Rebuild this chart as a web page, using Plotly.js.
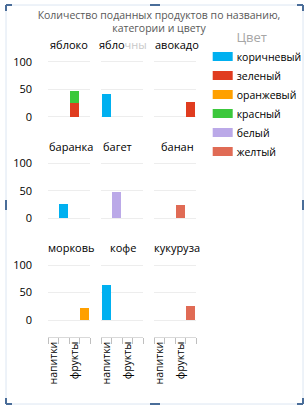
<!DOCTYPE html>
<html>
<head>
<meta charset="utf-8">
<script src="https://cdn.plot.ly/plotly-3.0.1.min.js"></script>
<style>
  html, body { margin: 0; padding: 0; background: #ffffff; }
  #chart { width: 308px; height: 412px; }
</style>
</head>
<body>
<div id="chart"></div>
<script>
// ---------- data ----------
const chartTitle = 'Количество поданных продуктов по названию,<br>категории и цвету';
const legendTitle = 'Цвет';
const items = ['яблоко', 'яблочный', 'авокадо', 'баранка', 'багет', 'банан', 'морковь', 'кофе', 'кукуруза'];
const itemLabels = ['яблоко', 'ябло<span style="color:#c8c8c8">чны</span>', 'авокадо', 'баранка', 'багет', 'банан', 'морковь', 'кофе', 'кукуруза'];
const categories = ['напитки', 'хлеб', 'фрукты', 'овощи'];
const categoryTickText = ['напитки', '', 'фрукты', ''];
const itemCategory = ['фрукты', 'напитки', 'овощи', 'хлеб', 'хлеб', 'фрукты', 'овощи', 'напитки', 'овощи'];
const colorNames = ['коричневый', 'зеленый', 'оранжевый', 'красный', 'белый', 'желтый'];
const brownValues  = [null, 42, null, 26, null, null, null, 63, null];
const greenValues  = [25, null, 27, null, null, null, null, null, null];
const orangeValues = [null, null, null, null, null, null, 22, null, null];
const redValues    = [22, null, null, null, null, null, null, null, null];
const whiteValues  = [null, null, null, null, 47, null, null, null, null];
const yellowValues = [null, null, null, null, null, 24, null, null, 26];
const yTicks = [0, 50, 100];

// ---------- styles ----------
const seriesValues = [brownValues, greenValues, orangeValues, redValues, whiteValues, yellowValues];
const seriesColors = ['#00B0F0', '#E03C1F', '#FFA000', '#3CC83C', '#BBA9E8', '#E06B55'];
const W = 308, H = 412;
const px = v => v / W;
const py = v => 1 - v / H;
const FONT = 'Open Sans, Noto Sans, sans-serif';

const colX = [[48, 90], [101, 143], [154, 196]];
const rowY = [[53.75, 133.2], [155.05, 234.8], [256.75, 336.5]];
const titleLeft = [48, 97, 153, 47, 101, 159, 46, 108, 152];
const titleY = [45, 147, 248];

function axName(i) { return i === 0 ? '' : String(i + 1); }

const traces = [];
seriesValues.forEach((vals, c) => {
  let first = true;
  vals.forEach((v, i) => {
    if (v === null) return;
    traces.push({
      type: 'bar',
      x: [itemCategory[i]],
      y: [v],
      name: colorNames[c],
      legendgroup: colorNames[c],
      showlegend: first,
      xaxis: 'x' + axName(i),
      yaxis: 'y' + axName(i),
      marker: { color: seriesColors[c], line: { width: 0 } },
      hoverinfo: 'skip'
    });
    first = false;
  });
});

const layout = {
  width: W, height: H,
  margin: { l: 0, r: 0, t: 0, b: 0, pad: 0 },
  paper_bgcolor: '#ffffff',
  plot_bgcolor: 'rgba(0,0,0,0)',
  font: { family: FONT, size: 11, color: '#000000' },
  barmode: 'stack',
  bargap: 0.18,
  title: {
    text: chartTitle,
    font: { family: FONT, size: 10.5, color: '#595959' },
    x: px(159), xanchor: 'center', xref: 'paper',
    y: py(18.5), yanchor: 'top', yref: 'paper'
  },
  showlegend: true,
  legend: {
    x: px(196.7), xanchor: 'left', y: py(25), yanchor: 'top',
    bgcolor: 'rgba(0,0,0,0)',
    font: { family: FONT, size: 10.5, color: '#000000' },
    title: { text: legendTitle, side: 'top center', font: { family: FONT, size: 13, color: '#A6A6A6' } },
    tracegroupgap: 0,
    itemclick: false, itemdoubleclick: false
  },
  annotations: [],
  shapes: []
};

for (let i = 0; i < 9; i++) {
  const r = Math.floor(i / 3), c = i % 3;
  const n = axName(i);
  const bottom = r === 2;
  layout['xaxis' + n] = {
    domain: [px(colX[c][0]), px(colX[c][1])],
    anchor: 'y' + n,
    type: 'category',
    categoryorder: 'array',
    categoryarray: categories,
    range: [-0.5, categories.length - 0.5],
    fixedrange: true,
    showgrid: false,
    zeroline: false,
    showline: bottom,
    linecolor: '#D9D9D9',
    linewidth: 1,
    ticks: bottom ? 'outside' : '',
    tickson: 'boundaries',
    ticklen: 6,
    tickcolor: '#BFBFBF',
    tickwidth: 1,
    tickmode: 'array',
    tickvals: categories,
    ticktext: categoryTickText,
    showticklabels: bottom,
    tickangle: -90,
    tickfont: { family: FONT, size: 10.5, color: '#000000' },
    automargin: false
  };
  layout['yaxis' + n] = {
    domain: [py(rowY[r][1]), py(rowY[r][0])],
    anchor: 'x' + n,
    range: [-30, 115],
    fixedrange: true,
    tickmode: 'array',
    tickvals: yTicks,
    showgrid: true,
    gridcolor: '#EDEDED',
    gridwidth: 1,
    zeroline: false,
    showline: false,
    ticks: '',
    showticklabels: c === 0,
    ticklabelstandoff: 15,
    tickfont: { family: FONT, size: 11, color: '#000000' },
    automargin: false
  };
  layout.annotations.push({
    text: itemLabels[i],
    xref: 'paper', yref: 'paper',
    x: px(titleLeft[i]), y: py(titleY[r]),
    xanchor: 'left', yanchor: 'middle',
    showarrow: false,
    font: { family: FONT, size: 11, color: '#000000' }
  });
}

// selection frame (chart border with handles)
const frameCol = '#DCE6F2', handleCol = '#4A6D99';
layout.shapes.push({ type: 'rect', xref: 'paper', yref: 'paper', x0: px(6), x1: px(303), y0: py(404), y1: py(5), line: { color: frameCol, width: 1 }, layer: 'below' });
const hs = [
  [6, 5, 12, 5], [6, 5, 6, 11],
  [297, 5, 303, 5], [303, 5, 303, 11],
  [6, 404, 12, 404], [6, 398, 6, 404],
  [297, 404, 303, 404], [303, 398, 303, 404],
  [150, 5, 160, 5], [150, 404, 160, 404],
  [6, 200, 6, 210], [303, 200, 303, 210]
];
hs.forEach(h => layout.shapes.push({ type: 'line', xref: 'paper', yref: 'paper', x0: px(h[0]), y0: py(h[1]), x1: px(h[2]), y1: py(h[3]), line: { color: handleCol, width: 2 } }));

Plotly.newPlot('chart', traces, layout, { displayModeBar: false, staticPlot: true }).then(gd => {
  gd.querySelectorAll('.legend .legendpoints path').forEach(p => {
    p.setAttribute('d', 'M-4,-4.5H16V4.5H-4Z');
  });
});
</script>
</body>
</html>
